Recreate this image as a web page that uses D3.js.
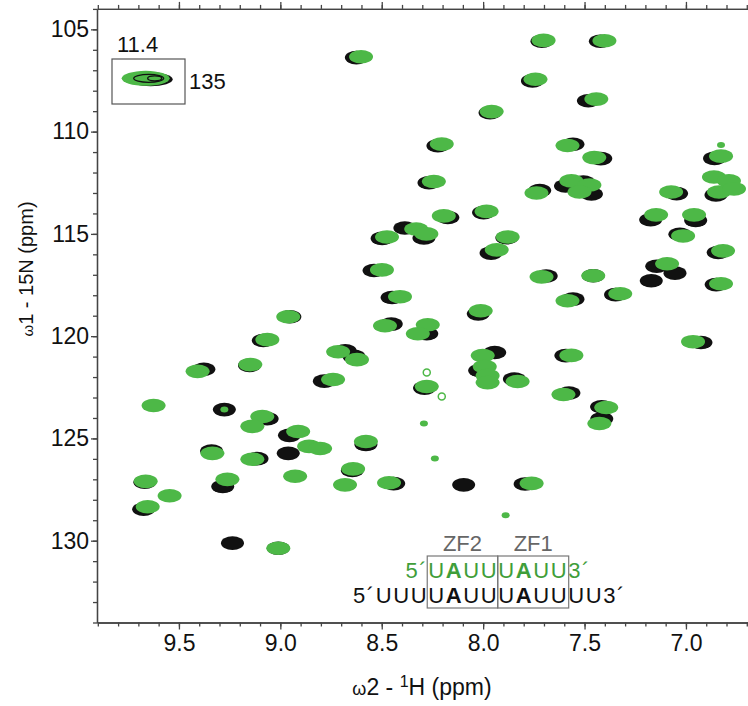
<!DOCTYPE html>
<html>
<head>
<meta charset="utf-8">
<script src="https://cdn.jsdelivr.net/npm/d3@7"></script>
<style>
body { margin: 0; background: #fff; }
text { font-family: "Liberation Sans", Arial, sans-serif; }
</style>
</head>
<body>
<div id="chart"></div>
<script>
// peak positions: [1H ppm, 15N ppm]
var blackPeaks = [
  [8.625,106.38],[7.710,105.58],[7.422,105.58],[7.757,107.52],[7.481,108.49],
  [7.966,109.08],[8.223,110.69],[7.557,110.62],[7.420,111.32],[8.267,112.50],
  [7.721,112.88],[7.998,113.96],[8.174,114.20],[8.498,115.22],[8.386,114.71],
  [8.292,115.20],[7.883,115.19],[7.961,115.94],[7.594,112.66],[7.506,112.46],
  [7.466,113.05],[6.859,111.31],[6.852,113.10],[7.046,113.03],[7.174,114.31],
  [6.952,114.34],[7.030,115.02],[6.841,115.91],[7.144,116.58],[7.054,116.92],
  [7.171,117.29],[6.851,117.48],[7.347,117.97],[7.557,118.19],[7.457,117.05],
  [7.689,117.06],[8.024,118.91],[8.449,118.11],[8.538,116.79],[8.453,119.41],
  [8.278,119.88],[8.680,120.72],[8.637,120.99],[8.783,122.20],[8.289,122.54],
  [7.943,120.80],[8.017,121.68],[7.846,122.10],[8.953,119.05],[9.084,120.21],
  [9.152,121.43],[9.377,121.62],[9.276,123.59],[9.065,124.04],[8.955,124.85],
  [8.961,125.73],[9.339,125.62],[9.115,125.99],[9.668,127.14],[9.284,127.35],
  [9.674,128.46],[9.236,130.12],[9.010,130.37],[8.578,125.30],[8.645,126.57],
  [8.441,127.21],[8.096,127.27],[7.793,127.23],[7.577,122.78],[7.592,120.95],
  [7.416,123.45],[7.415,124.04],[6.926,120.31]
];

var greenPeaks = [
  [8.602,106.34],[7.702,105.54],[7.402,105.56],[7.742,107.44],[7.442,108.41],
  [7.958,109.02],[8.204,110.61],[7.584,110.68],[7.452,111.27],[8.243,112.44],
  [7.737,113.00],[7.983,113.90],[8.194,114.12],[8.474,115.15],[8.330,114.76],
  [8.280,115.00],[7.879,115.15],[7.933,115.78],[7.565,112.41],[7.476,112.61],
  [7.525,112.95],[6.827,111.20],[6.862,112.22],[6.788,112.41],[6.837,112.95],
  [6.763,112.80],[7.073,112.95],[7.147,114.07],[6.960,114.07],[7.014,115.10],
  [6.817,115.83],[7.093,116.46],[6.827,117.44],[7.324,117.93],[7.584,118.27],
  [7.457,117.05],[7.712,117.10],[8.012,118.76],[8.410,118.07],[8.499,116.76],
  [8.484,119.49],[8.273,119.44],[8.322,119.88],[8.715,120.76],[8.622,121.15],
  [8.740,122.12],[8.278,122.46],[8.002,120.95],[7.992,121.49],[7.978,121.93],
  [7.978,122.27],[7.830,122.22],[8.961,119.05],[9.064,120.17],[9.148,121.39],
  [9.408,121.72],[9.625,123.39],[9.089,123.93],[9.138,124.41],[8.912,124.66],
  [8.858,125.39],[8.804,125.49],[9.335,125.73],[9.138,126.02],[8.927,126.85],
  [9.664,127.10],[9.261,127.00],[9.546,127.80],[9.654,128.34],[9.010,130.37],
  [8.578,125.15],[8.641,126.49],[8.681,127.27],[8.464,127.17],[7.761,127.20],
  [7.604,122.85],[7.565,120.94],[7.393,123.49],[7.427,124.27],[6.965,120.27]
];

// weak green peaks and hollow rings
var smallGreen = [[8.292,124.27],[8.238,125.98],[7.889,128.76],[9.276,123.59],[6.827,110.66]];
var ringGreen = [[8.278,121.78],[8.204,122.95]];

// folded peak shown in the inset
var insetPeak = [11.4, 135];

var xMajor = [9.5, 9.0, 8.5, 8.0, 7.5, 7.0];
var xMinor = d3.range(67, 100).map(function(d) { return d / 10; });
var yMajor = [105, 110, 115, 120, 125, 130];
var yMinor = d3.range(104, 135);

var seqBlack = ["5\u00b4UUU", "U", "A", "UU", "U", "A", "UU", "UU3\u00b4"];
var seqGreen = ["5\u00b4", "U", "A", "UU", "U", "A", "UU", "3\u00b4"];

var svgWidth = 748;
var svgHeight = 706;
var green = "#4db847";

var svg = d3.select("#chart")
  .append("svg")
  .attr("width", svgWidth)
  .attr("height", svgHeight)
  .style("background", "#fff");

var x = d3.scaleLinear().domain([9.904, 6.694]).range([97, 748]);
var y = d3.scaleLinear().domain([104, 134]).range([8.9, 622.5]);

svg.append("clipPath").attr("id", "plot")
  .append("rect")
  .attr("x", 97).attr("y", 9)
  .attr("width", 651).attr("height", 613);

// peaks: reference (black) first, then green on top
var peaks = svg.append("g").attr("clip-path", "url(#plot)");

peaks.selectAll(".blk")
  .data(blackPeaks)
  .enter()
  .append("ellipse")
  .attr("class", "blk")
  .attr("cx", function(d) { return x(d[0]); })
  .attr("cy", function(d) { return y(d[1]); })
  .attr("rx", 11.5)
  .attr("ry", 6.8)
  .attr("fill", "#111");

peaks.selectAll(".grn")
  .data(greenPeaks)
  .enter()
  .append("ellipse")
  .attr("class", "grn")
  .attr("cx", function(d) { return x(d[0]); })
  .attr("cy", function(d) { return y(d[1]); })
  .attr("rx", 12)
  .attr("ry", 6.8)
  .attr("fill", green);

peaks.selectAll(".sm")
  .data(smallGreen)
  .enter()
  .append("ellipse")
  .attr("class", "sm")
  .attr("cx", function(d) { return x(d[0]); })
  .attr("cy", function(d) { return y(d[1]); })
  .attr("rx", 4)
  .attr("ry", 3)
  .attr("fill", green);

peaks.selectAll(".ring")
  .data(ringGreen)
  .enter()
  .append("circle")
  .attr("class", "ring")
  .attr("cx", function(d) { return x(d[0]); })
  .attr("cy", function(d) { return y(d[1]); })
  .attr("r", 3.5)
  .attr("fill", "#fff")
  .attr("stroke", green)
  .attr("stroke-width", 1.5);

// axes
function styleAxis(g) {
  g.selectAll("path, line").attr("stroke", "#444").attr("stroke-width", 1.3);
  g.selectAll("text").attr("font-size", "23px").attr("fill", "#111")
    .attr("font-family", "Liberation Sans, Arial, sans-serif");
}

var yBottom = y.range()[1];
var yTop = y.range()[0];

svg.append("g").attr("transform", `translate(0, ${yBottom})`)
  .call(d3.axisBottom(x).tickValues(xMinor).tickSize(4).tickFormat("").tickSizeOuter(0))
  .call(styleAxis);
svg.append("g").attr("transform", `translate(0, ${yBottom})`)
  .call(d3.axisBottom(x).tickValues(xMajor).tickSize(7).tickPadding(5)
    .tickFormat(function(d, i) { return xMajor[i].toFixed(1); }).tickSizeOuter(0))
  .call(styleAxis);

svg.append("g").attr("transform", `translate(0, ${yTop})`)
  .call(d3.axisTop(x).tickValues(xMinor).tickSize(4).tickFormat("").tickSizeOuter(0))
  .call(styleAxis);
svg.append("g").attr("transform", `translate(0, ${yTop})`)
  .call(d3.axisTop(x).tickValues(xMajor).tickSize(7).tickFormat("").tickSizeOuter(0))
  .call(styleAxis);

svg.append("g").attr("transform", "translate(97, 0)")
  .call(d3.axisLeft(y).tickValues(yMinor).tickSize(4).tickFormat("").tickSizeOuter(0))
  .call(styleAxis);
svg.append("g").attr("transform", "translate(97, 0)")
  .call(d3.axisLeft(y).tickValues(yMajor).tickSize(6).tickPadding(2).tickSizeOuter(0))
  .call(styleAxis);

// axis titles
var xt = svg.append("text")
  .attr("x", 422)
  .attr("y", 695)
  .attr("text-anchor", "middle")
  .attr("font-size", "23px")
  .attr("fill", "#111");
xt.append("tspan").attr("font-size", "18px").text("\u03c9");
xt.append("tspan").text("2 - ");
xt.append("tspan").attr("font-size", "16px").attr("dy", "-8").text("1");
xt.append("tspan").attr("dy", "8").text("H (ppm)");

var yt = svg.append("text")
  .attr("transform", "translate(33, 269) rotate(-90)")
  .attr("text-anchor", "middle")
  .attr("font-size", "20px")
  .attr("fill", "#111");
yt.append("tspan").attr("font-size", "15px").text("\u03c9");
yt.append("tspan").text("1 - 15N (ppm)");

// inset with the folded peak
var xi = d3.scaleLinear().domain([11.59, 11.19]).range([112, 185]);
var yi = d3.scaleLinear().domain([134.14, 136.14]).range([59, 104]);

svg.append("rect")
  .attr("x", 112).attr("y", 59)
  .attr("width", 73).attr("height", 45)
  .attr("fill", "none")
  .attr("stroke", "#555")
  .attr("stroke-width", 1.2);

svg.append("ellipse")
  .attr("cx", xi(insetPeak[0]) + 4).attr("cy", yi(insetPeak[1]) + 1)
  .attr("rx", 22).attr("ry", 7).attr("fill", "#111");
svg.append("ellipse")
  .attr("cx", xi(insetPeak[0]) - 1).attr("cy", yi(insetPeak[1]))
  .attr("rx", 24).attr("ry", 7.5).attr("fill", green);
svg.append("ellipse")
  .attr("cx", xi(insetPeak[0]) + 2).attr("cy", yi(insetPeak[1]))
  .attr("rx", 15).attr("ry", 4).attr("fill", "none")
  .attr("stroke", "#111").attr("stroke-width", 1.3);
svg.append("ellipse")
  .attr("cx", xi(insetPeak[0]) + 8).attr("cy", yi(insetPeak[1]))
  .attr("rx", 7).attr("ry", 2.5).attr("fill", "none")
  .attr("stroke", "#111").attr("stroke-width", 1.3);

svg.append("text")
  .attr("x", 117).attr("y", 52)
  .attr("font-size", "22px").attr("fill", "#111")
  .text(insetPeak[0].toFixed(1));
svg.append("text")
  .attr("x", 189).attr("y", 89)
  .attr("font-size", "22px").attr("fill", "#111")
  .text(insetPeak[1]);

// RNA sequences with the zinc-finger boxes
var bt = svg.append("text")
  .attr("x", 353).attr("y", 603)
  .attr("font-size", "22px")
  .attr("letter-spacing", "1.6px")
  .attr("fill", "#111");
seqBlack.forEach(function(s) {
  bt.append("tspan").attr("font-weight", s === "A" ? "bold" : "normal").text(s);
});

var node = bt.node();
var b1 = node.getStartPositionOfChar(5).x - 1;
var b2 = node.getStartPositionOfChar(9).x - 0.5;
var b3 = node.getEndPositionOfChar(12).x + 0.5;

var gt = svg.append("text")
  .attr("x", 0).attr("y", 578)
  .attr("font-size", "22px")
  .attr("letter-spacing", "1.6px")
  .attr("fill", "#3f9e3a");
seqGreen.forEach(function(s) {
  gt.append("tspan").attr("font-weight", s === "A" ? "bold" : "normal").text(s);
});
var off = gt.node().getStartPositionOfChar(2).x;
gt.attr("x", b1 + 1 - off);

[[b1, b2, "ZF2"], [b2, b3, "ZF1"]].forEach(function(b) {
  svg.append("rect")
    .attr("x", b[0]).attr("y", 556)
    .attr("width", b[1] - b[0]).attr("height", 52)
    .attr("fill", "none")
    .attr("stroke", "#777")
    .attr("stroke-width", 1.2);
  svg.append("text")
    .attr("x", (b[0] + b[1]) / 2).attr("y", 551)
    .attr("text-anchor", "middle")
    .attr("font-size", "22px").attr("fill", "#666")
    .text(b[2]);
});
</script>
</body>
</html>
